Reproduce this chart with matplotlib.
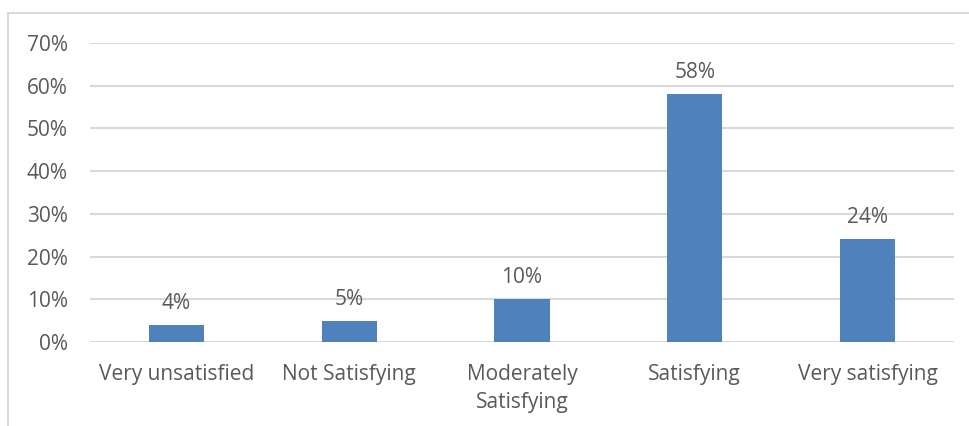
import matplotlib
matplotlib.use("Agg")
import matplotlib.pyplot as plt
from matplotlib.patches import Rectangle

# Данные
categories = ["Very unsatisfied", "Not Satisfying", "Moderately\nSatisfying",
              "Satisfying", "Very satisfying"]
values = [4, 5, 10, 58, 24]
y_ticks = [0, 10, 20, 30, 40, 50, 60, 70]

bar_color = "#4F81BD"
text_color = "#595959"
grid_color = "#D9D9D9"

plt.rcParams['font.family'] = ['Open Sans', 'DejaVu Sans']

fig = plt.figure(figsize=(9.69, 4.26), dpi=100)
ax = fig.add_axes([90 / 969, 1 - 342 / 426, 864 / 969, 299 / 426])

# рамка вокруг диаграммы (правый и нижний края обрезаны)
fig.patches.append(Rectangle((8 / 969, -0.1), 1.2, 1.1 - 13 / 426,
                             transform=fig.transFigure, fill=False,
                             edgecolor=grid_color, linewidth=1.5))

x = range(len(categories))
bars = ax.bar(x, values, width=0.32, color=bar_color, zorder=3)

for xi, v in zip(x, values):
    ax.text(xi, v + 2.6, f"{v}%", ha='center', va='bottom',
            fontsize=15, color=text_color)

ax.set_xlim(-0.5, len(categories) - 0.5)
ax.set_ylim(0, 70)
ax.set_yticks(y_ticks)
ax.set_yticklabels([f"{t}%" for t in y_ticks])
ax.set_xticks(list(x))
ax.set_xticklabels(categories, linespacing=1.45)
ax.tick_params(axis='both', length=0, labelsize=15, colors=text_color)
ax.tick_params(axis='y', pad=16)
ax.tick_params(axis='x', pad=16)

ax.grid(axis='y', color=grid_color, linewidth=1.5, zorder=0)
for s in ax.spines.values():
    s.set_visible(False)

plt.savefig("out.png", dpi=100)
